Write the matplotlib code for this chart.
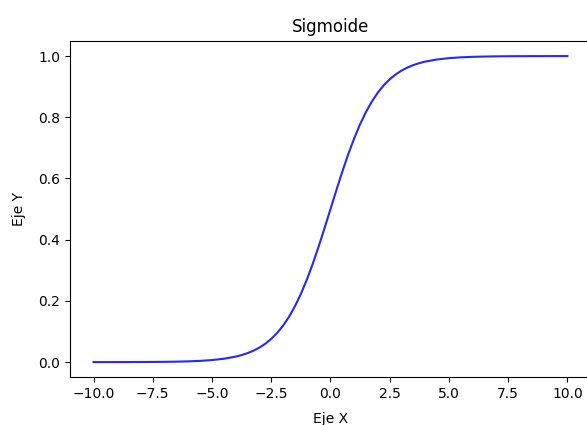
import matplotlib
matplotlib.use("Agg")
import matplotlib.pyplot as plt

# values
x_vals = [-10, -9.5, -9, -8.5, -8, -7.5, -7, -6.5, -6, -5.5, -5, -4.5,
          -4, -3.75, -3.5, -3.25, -3, -2.75, -2.5, -2.25, -2, -1.75, -1.5, -1.25,
          -1, -0.75, -0.5, -0.25, 0, 0.25, 0.5, 0.75, 1, 1.25, 1.5, 1.75,
          2, 2.25, 2.5, 2.75, 3, 3.25, 3.5, 3.75, 4,
          4.5, 5, 5.5, 6, 6.5, 7, 7.5, 8, 8.5, 9, 9.5, 10]
y_vals = [0.00005, 0.00007, 0.00012, 0.0002, 0.00034, 0.00055, 0.00091, 0.0015,
          0.00247, 0.00407, 0.00669, 0.01099,
          0.01799, 0.02298, 0.02931, 0.03732, 0.04743, 0.06007, 0.07586, 0.09534,
          0.1192, 0.14805, 0.18243, 0.2227, 0.26894, 0.32082, 0.37754, 0.43782,
          0.5, 0.56218, 0.62246, 0.67918, 0.73106, 0.7773, 0.81757, 0.85195,
          0.8808, 0.90466, 0.92414, 0.93993, 0.95257, 0.96268, 0.97069, 0.97702,
          0.98201,
          0.98901, 0.99331, 0.99593, 0.99753, 0.9985, 0.99909, 0.99945, 0.99966,
          0.9998, 0.99988, 0.99993, 0.99995]

fig = plt.figure(figsize=(5.87, 4.25), dpi=100)
ax = fig.add_axes([0.119, 0.112, 0.888, 0.792])
ax.plot(x_vals, y_vals, color="blue", alpha=0.85)
ax.set_title("Sigmoide")
ax.set_xlabel("Eje X", labelpad=8)
ax.set_ylabel("Eje Y", labelpad=9)
ax.set_xticks([-10.0, -7.5, -5.0, -2.5, 0.0, 2.5, 5.0, 7.5, 10.0])
fig.savefig("out.png", dpi=100)
